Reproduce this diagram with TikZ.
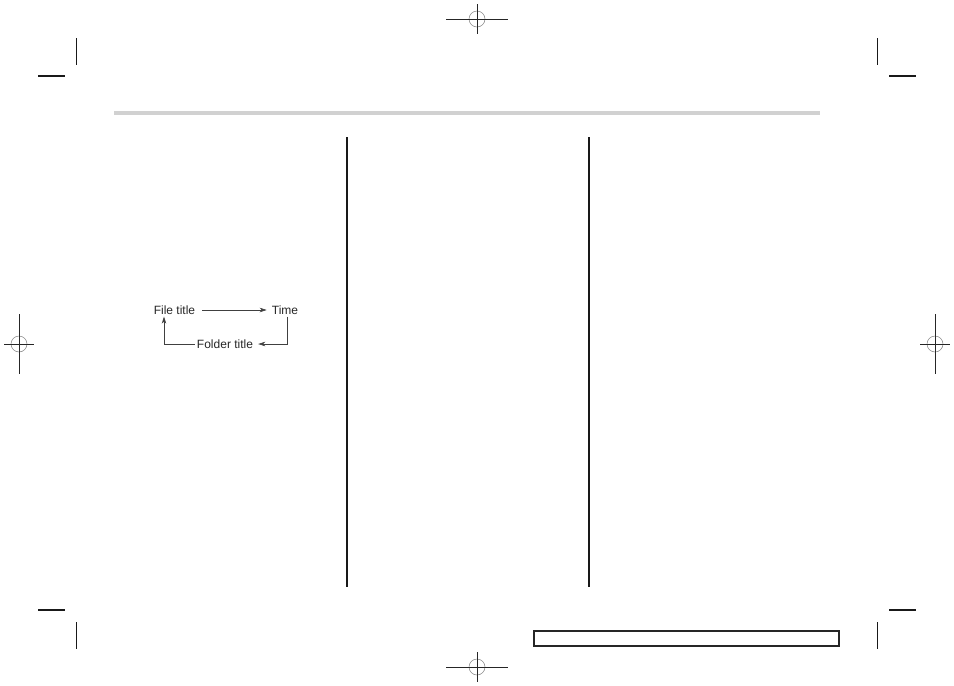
\documentclass[tikz,border=0pt]{standalone}
\usepackage{fontspec}
\setmainfont{Liberation Sans}
\usepackage{tikz}
\usetikzlibrary{arrows.meta}

\tikzset{
  crop/.style = {line width=1.15pt, black!90},
  reg/.style = {line width=0.8pt, black!85},
  regring/.style = {line width=0.5pt, gray},
  rule/.style = {line width=1.1pt, black!90},
  lbl/.style = {inner sep=2pt, text=black!85, font=\fontsize{12}{14}\selectfont},
  flow/.style = {draw=black!75, line width=0.7pt, -{Stealth[length=7pt, width=4.5pt, inset=2pt]}},
}

\begin{document}
\begin{tikzpicture}[x=1pt, y=-1pt]
        \useasboundingbox (0, 0) rectangle (954, 686);
        % crop marks
        \draw [crop] (76.5, 38) -- (76.5, 65);
        \draw [crop] (38, 76) -- (65, 76);
        \draw [crop] (877.5, 38) -- (877.5, 65);
        \draw [crop] (889, 76) -- (916, 76);
        \draw [crop] (38, 610) -- (65, 610);
        \draw [crop] (76.5, 622) -- (76.5, 649);
        \draw [crop] (889, 610) -- (916, 610);
        \draw [crop] (877.5, 622) -- (877.5, 649);
        % registration marks
        \draw [regring] (477, 19) circle (8);
        \draw [reg] (446, 19) -- (508, 19);
        \draw [reg] (477, 4) -- (477, 34);
        \draw [regring] (19, 344) circle (8);
        \draw [reg] (4, 344) -- (34, 344);
        \draw [reg] (19, 314) -- (19, 374);
        \draw [regring] (935, 344) circle (8);
        \draw [reg] (920, 344) -- (950, 344);
        \draw [reg] (935, 314) -- (935, 374);
        \draw [regring] (477, 667) circle (8);
        \draw [reg] (446, 667) -- (508, 667);
        \draw [reg] (477, 652) -- (477, 682);
        % page rules
        \draw [line width=4pt, black!18] (114, 113) -- (820, 113);
        \draw [rule] (347, 137) -- (347, 587);
        \draw [rule] (589, 137) -- (589, 587);
        \draw [line width=1.3pt, black!85] (534, 631) rectangle (839, 646);
        % diagram
        \node (file) at (174.5, 310) [lbl] {File title};
        \node (time) at (285, 310) [lbl] {Time};
        \node (folder) at (225, 344) [lbl] {Folder title};
        \draw [flow, shorten <=5pt, shorten >=3pt] (file) -- (time);
        \draw [flow, shorten >=3pt] ([xshift=2pt]time.south) |- (folder.east);
        \draw [flow] (folder.west) -| ([xshift=-10.5pt]file.south);
    \end{tikzpicture}
\end{document}
